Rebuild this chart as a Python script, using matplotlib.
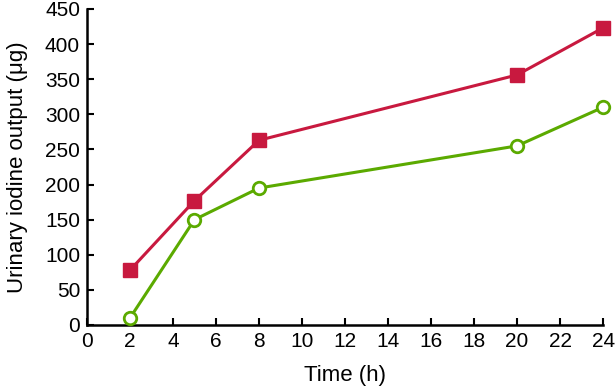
import matplotlib
matplotlib.use("Agg")
import matplotlib.pyplot as plt

# data
time_h = [2, 5, 8, 20, 24]
red_series = [78, 177, 263, 356, 423]
green_series = [10, 150, 195, 255, 310]

x_ticks = list(range(0, 25, 2))
y_ticks = list(range(0, 451, 50))

plt.rcParams['font.family'] = ['Liberation Sans', 'DejaVu Sans']

fig = plt.figure(figsize=(6.16, 3.88), dpi=100)
ax = fig.add_axes([0.1412, 0.1624, 0.8378, 0.8146])

ax.plot(time_h, red_series, color="#C8193F", lw=2.2, marker="s",
        markersize=10, markerfacecolor="#C8193F", markeredgecolor="#C8193F",
        clip_on=False, zorder=3)
ax.plot(time_h, green_series, color="#5BAA00", lw=2.2, marker="o",
        markersize=9, markerfacecolor="white", markeredgecolor="#5BAA00",
        markeredgewidth=2, clip_on=False, zorder=3)

ax.set_xlim(0, 24)
ax.set_ylim(0, 450)
ax.set_xticks(x_ticks)
ax.set_yticks(y_ticks)
ax.tick_params(direction="in", length=5, width=1.5, labelsize=15, pad=5)

for side in ["top", "right"]:
    ax.spines[side].set_visible(False)
for side in ["left", "bottom"]:
    ax.spines[side].set_linewidth(1.8)

ax.set_xlabel("Time (h)", fontsize=16, labelpad=10)
ax.set_ylabel("Urinary iodine output (\u03bcg)", fontsize=16, labelpad=12)

fig.savefig("out.png", dpi=100)
